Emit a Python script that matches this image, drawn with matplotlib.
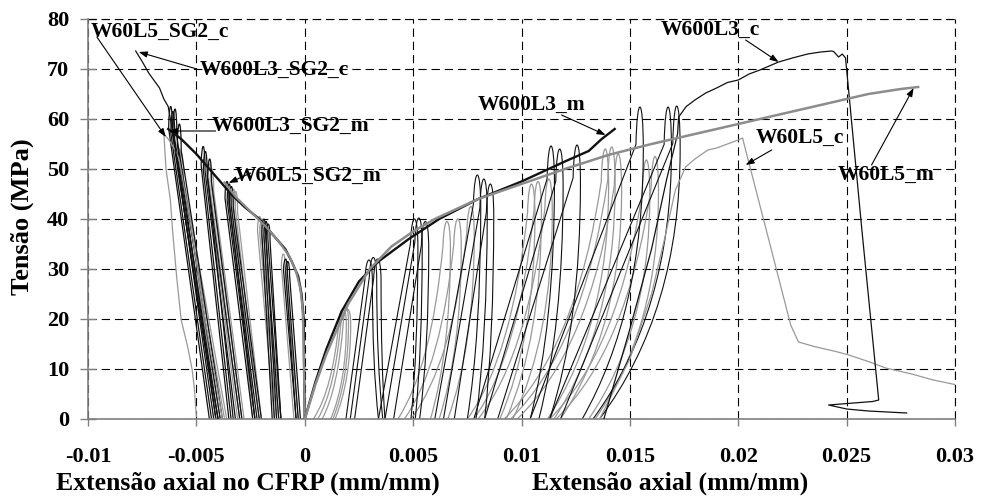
import numpy as np
import matplotlib
matplotlib.use("Agg")
import matplotlib.pyplot as plt
from matplotlib.path import Path
from matplotlib.patches import PathPatch

# ---------------- data ----------------
# monotonic envelopes
w600l3_m_x = [0, 0.0005, 0.001, 0.0017, 0.0025, 0.0034, 0.0048, 0.0062, 0.008, 0.010, 0.012, 0.0131, 0.0137, 0.0143]
w600l3_m_y = [0, 7.5, 14, 21.5, 27.5, 31.5, 36, 40, 44, 47.5, 51.5, 53.6, 56, 58]

w60l5_m_x = [0, 0.0005, 0.001, 0.002, 0.003, 0.004, 0.005, 0.006, 0.008, 0.010, 0.012, 0.014, 0.016, 0.018, 0.020, 0.022, 0.024, 0.026, 0.0275, 0.0283]
w60l5_m_y = [0, 7, 13, 23, 30, 34.5, 37.5, 40, 44, 47, 50, 52.8, 55, 57, 59, 61, 63, 65, 66, 66.4]

w600l3_sg2_m_x = [0, -0.00003, -0.00005, -0.00015, -0.0003, -0.0006, -0.0009, -0.0015, -0.0021, -0.0028, -0.0034, -0.0042, -0.005, -0.0057, -0.0063]
w600l3_sg2_m_y = [0, 10, 20, 25, 28.5, 31.5, 34, 37, 40, 42.5, 45, 49, 53, 56, 58]

w60l5_sg2_m_x = [0, -0.00005, -0.0001, -0.0002, -0.0004, -0.0007, -0.0012, -0.0018, -0.0025, -0.0032, -0.0037]
w60l5_sg2_m_y = [0, 15, 22, 26, 29.5, 32.5, 35.5, 38.5, 41.5, 44.5, 47.3]

# cyclic tails (after last loop)
w600l3_c_x = [0.0138, 0.0150, 0.0160, 0.0167, 0.0172, 0.01725, 0.0176, 0.0180, 0.0185, 0.0190, 0.0195, 0.0200, 0.0205, 0.0210, 0.02186, 0.0225, 0.0232, 0.0238, 0.0243, 0.0244, 0.02463, 0.0248, 0.02495, 0.0257, 0.02648, 0.0262, 0.02417, 0.0250, 0.0260, 0.02777]
w600l3_c_y = [0, 18, 34, 48, 57, 60.4, 62.5, 63.8, 65.2, 66.2, 67.3, 67.8, 69.0, 69.8, 71.4, 72.2, 73.0, 73.4, 73.6, 73.5, 72.4, 73.0, 72.2, 38, 3.8, 3.5, 2.8, 2.0, 1.6, 1.2]

w60l5_c_x = [0.0136, 0.0150, 0.0160, 0.0166, 0.0171, 0.01757, 0.0180, 0.0186, 0.0190, 0.0195, 0.0200, 0.0202, 0.02034, 0.0214, 0.02242, 0.02278, 0.0235, 0.0245, 0.0251, 0.0260, 0.0268, 0.0280, 0.0290, 0.0301]
w60l5_c_y = [0, 12, 25, 36, 45.8, 50.4, 52.0, 53.8, 54.2, 55.0, 55.8, 56.2, 53.8, 36, 18.8, 15.4, 14.5, 13.5, 12.8, 11.5, 10.2, 9.0, 7.8, 6.8]

w600l3_sg2_c_x = [-0.0040, -0.0048, -0.0055, -0.0060, -0.0063, -0.0065, -0.0067, -0.0070, -0.0072, -0.0075, -0.0078]
w600l3_sg2_c_y = [0, 20, 40, 55, 62.5, 64, 66.2, 68, 69.2, 71.5, 73.6]

w60l5_sg2_c_x = [-0.0038, -0.0046, -0.0053, -0.0058, -0.0060, -0.0063, -0.0065, -0.0064, -0.0062, -0.0061, -0.0059, -0.0057, -0.0054, -0.0052, -0.0051, -0.0050]
w60l5_sg2_c_y = [0, 20, 40, 52, 54, 56, 57, 50, 43.8, 37.8, 28, 19.8, 14.4, 10, 6.4, 0.5]

# loops: (left residual, apex strain, apex stress, right residual)
w600l3_c_loops = [
    (0.0019, 0.0030, 31.8, 0.0034), (0.0021, 0.0032, 32.3, 0.0036), (0.0023, 0.0034, 32.0, 0.0037),
    (0.0034, 0.0051, 40.0, 0.0049), (0.0037, 0.0053, 40.2, 0.0051), (0.0041, 0.0056, 39.5, 0.0053),
    (0.0060, 0.0080, 48.8, 0.0075), (0.0064, 0.0083, 48.0, 0.0079), (0.0069, 0.0086, 47.0, 0.0083),
    (0.0078, 0.0114, 54.6, 0.0104), (0.0083, 0.0118, 54.0, 0.0108), (0.0089, 0.0126, 54.8, 0.0113),
    (0.0104, 0.0155, 62.4, 0.0128), (0.0113, 0.0168, 62.4, 0.0133), (0.0118, 0.0172, 62.6, 0.0136),
]
w60l5_c_loops = [
    (0.0004, 0.0018, 22.0, 0.0012), (0.0006, 0.0019, 22.5, 0.0013), (0.0008, 0.0020, 22.0, 0.0014),
    (0.0043, 0.0066, 39.5, 0.0058), (0.0046, 0.0071, 40.0, 0.0062), (0.0049, 0.0077, 42.5, 0.0066),
    (0.0075, 0.0105, 47.0, 0.0090), (0.0078, 0.0108, 47.5, 0.0093), (0.0080, 0.0113, 48.0, 0.0096),
    (0.0092, 0.0139, 54.0, 0.0112), (0.0095, 0.0142, 54.4, 0.0115), (0.0098, 0.0145, 53.0, 0.0118),
    (0.0113, 0.0158, 51.8, 0.0131), (0.0116, 0.0162, 52.5, 0.0134),
]
w600l3_sg2_c_loops = [
    (-0.0044, -0.0062, 62.5, -0.0041), (-0.0043, -0.0061, 61.5, -0.0040), (-0.0042, -0.0060, 62.0, -0.0039),
    (-0.0041, -0.0058, 59.0, -0.0038),
    (-0.0035, -0.0047, 54.5, -0.0032), (-0.0034, -0.0046, 53.5, -0.0030), (-0.0033, -0.0044, 52.0, -0.0029),
    (-0.0024, -0.0036, 47.5, -0.0022), (-0.0023, -0.0035, 47.0, -0.0021), (-0.0023, -0.0034, 46.5, -0.0020),
    (-0.0015, -0.0019, 40.0, -0.0012), (-0.0014, -0.0018, 39.5, -0.0011), (-0.0013, -0.0017, 39.0, -0.0011),
    (-0.0004, -0.0009, 32.0, -0.0003), (-0.0004, -0.0008, 31.5, -0.0002),
]
w60l5_sg2_c_loops = [
    (-0.0040, -0.0058, 54.0, -0.0037), (-0.0039, -0.0057, 53.0, -0.0036),
    (-0.0031, -0.0044, 51.0, -0.0029), (-0.0030, -0.0043, 50.0, -0.0028),
    (-0.0024, -0.0033, 46.0, -0.0021), (-0.0023, -0.0032, 45.5, -0.0020),
    (-0.0014, -0.0021, 40.5, -0.0012), (-0.0013, -0.0020, 40.0, -0.0011),
    (-0.0005, -0.0010, 33.0, -0.0003),
]

# annotations: label, text position, arrow start, arrow end
labels = ["W60L5_SG2_c", "W600L3_SG2_c", "W600L3_SG2_m", "W60L5_SG2_m",
          "W600L3_m", "W600L3_c", "W60L5_c", "W60L5_m"]
label_xy = [(-0.00669, 77.4), (-0.00138, 69.8), (-0.00065, 58.6), (0.00014, 48.6),
            (0.01047, 62.8), (0.01873, 77.8), (0.02283, 56.2), (0.0268, 48.8)]
arrow_from = [(-0.00959, 76.4), (-0.00498, 70.0), (-0.00411, 57.6), (-0.00249, 49.2),
              (0.01185, 60.8), (0.02034, 75.8), (0.02154, 53.8), (0.02615, 50.8)]
arrow_to = [(-0.00641, 56.4), (-0.00766, 73.4), (-0.00627, 57.6), (-0.00351, 47.2),
            (0.01388, 56.8), (0.02186, 71.4), (0.02034, 50.8), (0.02809, 66.2)]

x_ticks = [-0.01, -0.005, 0, 0.005, 0.01, 0.015, 0.02, 0.025, 0.03]
x_tick_labels = ["-0.01", "-0.005", "0", "0.005", "0.01", "0.015", "0.02", "0.025", "0.03"]
y_ticks = [0, 10, 20, 30, 40, 50, 60, 70, 80]

# ---------------- drawing ----------------
plt.rcParams['font.family'] = ['Liberation Serif', 'DejaVu Serif']
plt.rcParams['font.weight'] = 'bold'
plt.rcParams['lines.scale_dashes'] = False

fig = plt.figure(figsize=(9.82, 4.96), dpi=100)
ax = fig.add_axes([88/982, 1-419/496, (955-88)/982, (419-19)/496])
ax.set_xlim(-0.01, 0.03)
ax.set_ylim(0, 80)

BLACK = '#111111'
GREY = '#999999'


def loop_patch(rl, axp, ayp, rr, color, lw, kind):
    # shape styling of one unload/reload loop (rounded arch through the apex)
    if kind == 'left':
        wl, wr, hl, hr = 0.00008, 0.00010, 0.93, 0.91
    else:
        wl, wr, hl, hr = 0.00022, 0.00012, 0.88, 0.86
    A = np.array([rl, 0.0]); B = np.array([rr, 0.0])
    Q1 = np.array([axp - wl, hl * ayp])
    Q2 = np.array([axp + wr, hr * ayp])
    k = (8 * ayp - Q1[1] - Q2[1]) / 6.0
    verts = [A]; codes = [Path.MOVETO]
    if kind == 'grey':
        C1 = np.array([A[0] + 0.75 * (Q1[0] - A[0]), 0.3 * Q1[1]])
        verts += [C1, Q1]; codes += [Path.CURVE3, Path.CURVE3]
    else:
        verts += [Q1]; codes += [Path.LINETO]
    verts += [(Q1[0] + 0.15 * (Q2[0] - Q1[0]), k), (Q2[0], k), Q2]
    codes += [Path.CURVE4, Path.CURVE4, Path.CURVE4]
    if kind in ('grey', 'black'):
        C2 = np.array([Q2[0], 0.4 * Q2[1]])
        verts += [C2, B]; codes += [Path.CURVE3, Path.CURVE3]
    else:
        verts += [B]; codes += [Path.LINETO]
    return PathPatch(Path(verts, codes), facecolor='none', edgecolor=color, lw=lw, zorder=2)


for lp in w60l5_c_loops:
    ax.add_patch(loop_patch(*lp, GREY, 0.9, 'grey'))
for lp in w60l5_sg2_c_loops:
    ax.add_patch(loop_patch(*lp, GREY, 0.9, 'left'))
for lp in w600l3_c_loops:
    ax.add_patch(loop_patch(*lp, BLACK, 0.8, 'black'))
for lp in w600l3_sg2_c_loops:
    ax.add_patch(loop_patch(*lp, BLACK, 0.9, 'left'))

ax.plot(w60l5_c_x, w60l5_c_y, color=GREY, lw=0.9, zorder=3)
ax.plot(w60l5_sg2_c_x, w60l5_sg2_c_y, color=GREY, lw=0.9, zorder=3)
ax.plot(w600l3_c_x, w600l3_c_y, color=BLACK, lw=0.9, zorder=3)
ax.plot(w600l3_sg2_c_x, w600l3_sg2_c_y, color=BLACK, lw=0.9, zorder=3)

ax.plot(w600l3_sg2_m_x, w600l3_sg2_m_y, color=BLACK, lw=1.7, zorder=4)
ax.plot(w60l5_sg2_m_x, w60l5_sg2_m_y, color='#8c8c8c', lw=1.6, zorder=4)
ax.plot(w600l3_m_x, w600l3_m_y, color=BLACK, lw=1.7, zorder=4)
ax.plot(w60l5_m_x, w60l5_m_y, color='#8c8c8c', lw=1.8, zorder=5)

for lab, txy, a0, a1 in zip(labels, label_xy, arrow_from, arrow_to):
    ax.annotate('', xy=a1, xytext=a0, xycoords='data', textcoords='data',
                arrowprops=dict(arrowstyle='-|>,head_length=0.5,head_width=0.18',
                                color='black', lw=0.8, shrinkA=0, shrinkB=0), zorder=6)
    ax.text(txy[0], txy[1], lab, ha='center', va='center', fontsize=15.5,
            fontweight='bold', color='black', zorder=7)

# grid & axes styling
ax.set_xticks(x_ticks)
ax.set_xticklabels(x_tick_labels)
ax.set_yticks(y_ticks)
ax.grid(True, color='black', linestyle=(0, (6, 3.5)), lw=0.8, zorder=1)
ax.set_axisbelow(True)
for s in ('top', 'right'):
    ax.spines[s].set_visible(False)
for s in ('left', 'bottom'):
    ax.spines[s].set_color('#808080')
    ax.spines[s].set_linewidth(1.2)
ax.axhline(80, color='black', linestyle=(0, (6, 3.5)), lw=0.8, clip_on=False, zorder=1)
ax.axvline(0.03, color='black', linestyle=(0, (6, 3.5)), lw=0.8, clip_on=False, zorder=1)

ax.tick_params(axis='x', direction='out', length=5, width=1, color='#808080', pad=15, labelsize=16)
ax.tick_params(axis='y', direction='inout', length=11, width=1, color='#808080', pad=8, labelsize=16)
for t in ax.get_xticklabels() + ax.get_yticklabels():
    t.set_fontweight('bold')

fig.text(248/982, 1-483/496, 'Extensão axial no CFRP (mm/mm)', ha='center', va='center',
         fontsize=18.5, fontweight='bold')
fig.text(670/982, 1-483/496, 'Extensão axial (mm/mm)', ha='center', va='center',
         fontsize=18.5, fontweight='bold')
fig.text(22/982, 1-217/496, 'Tensão (MPa)', ha='center', va='center', rotation=90,
         fontsize=19, fontweight='bold')

fig.savefig('out.png', dpi=100)
